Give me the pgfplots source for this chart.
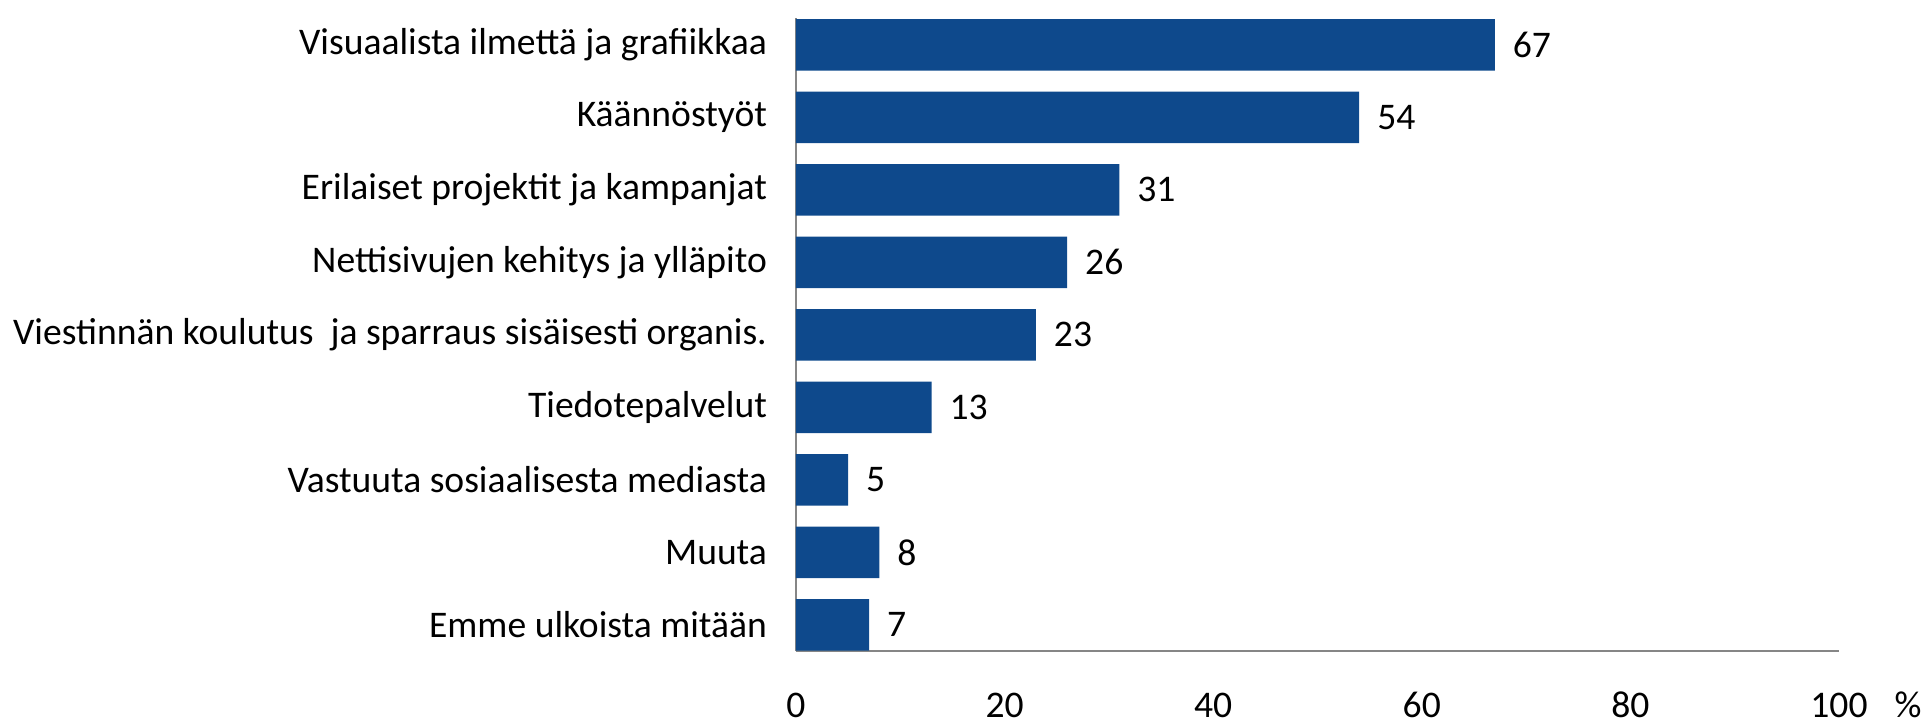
\documentclass[border=0pt]{standalone}
\usepackage{fontspec}
\setmainfont{Carlito}
\usepackage{pgfplots}
\pgfplotsset{compat=1.18}
\definecolor{barblue}{RGB}{14,73,140}
\definecolor{axgray}{RGB}{134,134,134}
\begin{document}
\begin{tikzpicture}
\begin{axis}[
  scale only axis, width=521.5pt, height=316.5pt,
  xbar, bar width=0.71,
  xmin=0, xmax=100, ymin=-0.36, ymax=8.37,
  axis lines*=left,
  axis line style={axgray, line width=1.3pt},
  xtick={0,20,40,60,80,100}, ytick={0,...,8},
  yticklabels={Emme ulkoista mitään, Muuta~, Vastuuta sosiaalisesta mediasta, Tiedotepalvelut~, Viestinnän koulutus~ ja sparraus sisäisesti organis., Nettisivujen kehitys ja ylläpito, Erilaiset projektit ja kampanjat, Käännöstyöt~, Visuaalista ilmettä ja grafiikkaa},
  major tick length=0pt,
  tick label style={font=\fontsize{18.8}{22}\selectfont, black},
  /pgf/number format/assume math mode=true,
  xticklabel style={anchor=base, yshift=-33pt},
  yticklabel style={anchor=east, xshift=-11pt},
  nodes near coords,
  every node near coord/.append style={font=\fontsize{18.8}{22}\selectfont, black, anchor=west, xshift=5.5pt},
  clip=false,
]
\addplot[fill=barblue, draw=none] coordinates {(7,0) (8,1) (5,2) (13,3) (23,4) (26,5) (31,6) (54,7) (67,8)};
\node[font=\fontsize{18.8}{22}\selectfont, anchor=base, xshift=34.5pt, yshift=-33pt] at (rel axis cs:1,0) {\%};
\end{axis}
\pgfresetboundingbox
\path ([shift={(-398pt,-36.5pt)}]current axis.south west) rectangle ([shift={(43.5pt,9pt)}]current axis.north east);
\end{tikzpicture}
\end{document}
